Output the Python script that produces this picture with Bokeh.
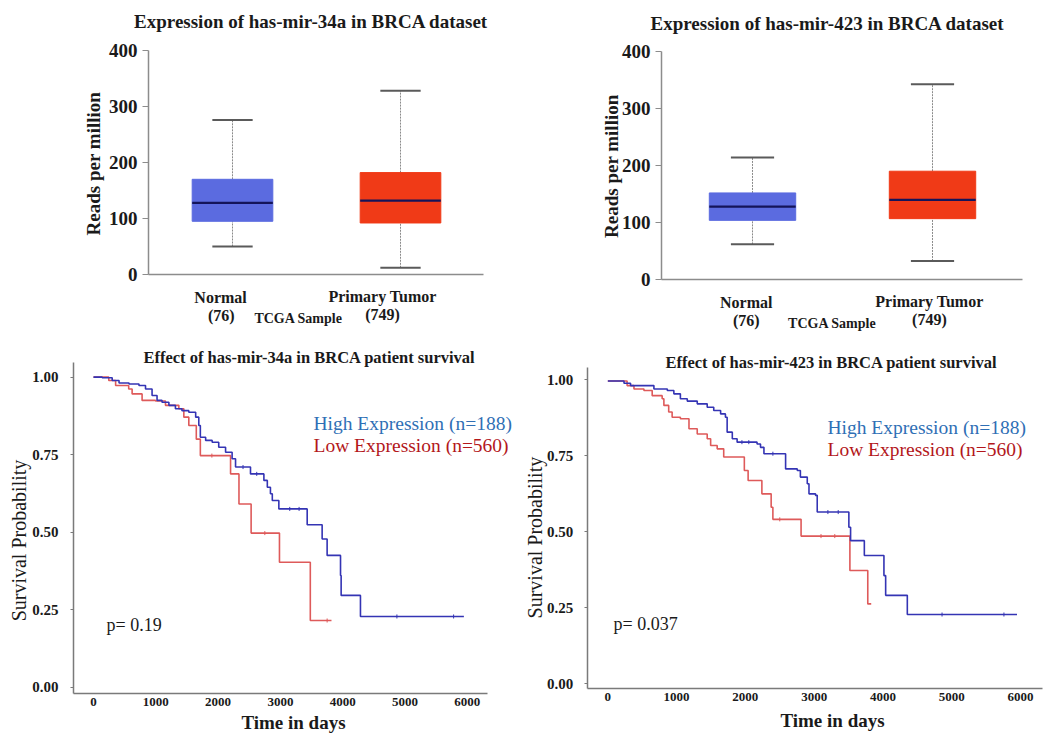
import math
from bisect import bisect_right
from bokeh.plotting import figure
from bokeh.models import Range1d, Label, FixedTicker
from bokeh.layouts import row, column
from bokeh.embed import file_html
from bokeh.resources import INLINE

SERIF = "Liberation Serif"
TXT = "#1a1a1a"

# ---------------- data ----------------
box_categories = ["Normal", "Primary Tumor"]
box_counts = ["(76)", "(749)"]
box_x = [1, 2]
box_colors = ["#5B6BE0", "#F03A17"]

mir34a_low = [50, 12]
mir34a_q1 = [95, 92]
mir34a_median = [128, 132]
mir34a_q3 = [170, 182]
mir34a_high = [276, 328]

mir423_low = [62, 33]
mir423_q1 = [104, 107]
mir423_median = [128, 140]
mir423_q3 = [152, 190]
mir423_high = [214, 342]

box_y_ticks = [0, 100, 200, 300, 400]
km_y_ticks = [0.0, 0.25, 0.5, 0.75, 1.0]
km_y_labels = ["0.00", "0.25", "0.50", "0.75", "1.00"]
km_x_ticks = [0, 1000, 2000, 3000, 4000, 5000, 6000]

km34a_high_t = [0, 140, 300, 410, 570, 730, 835, 940, 1020, 1100, 1210, 1315, 1420, 1530, 1640, 1690, 1715,
                1800, 1905, 2010, 2120, 2225, 2280, 2520, 2735, 2790, 2840, 2870, 2975, 3430, 3670, 3750,
                3965, 3975, 4285, 5945]
km34a_high_s = [1.0, 0.998, 0.989, 0.981, 0.978, 0.973, 0.962, 0.941, 0.925, 0.919, 0.909, 0.898, 0.892, 0.887,
                0.871, 0.844, 0.806, 0.796, 0.790, 0.774, 0.758, 0.737, 0.710, 0.688, 0.667, 0.645, 0.624,
                0.602, 0.575, 0.524, 0.478, 0.425, 0.360, 0.296, 0.228, 0.228]
km34a_high_censor = [2400, 2620, 3150, 3300, 4870, 5780]
km34a_low_t = [0, 245, 355, 565, 620, 780, 995, 1155, 1370, 1450, 1530, 1650, 1715, 2200, 2335, 2530, 2985,
               3480, 3820]
km34a_low_s = [1.0, 0.989, 0.973, 0.962, 0.946, 0.925, 0.923, 0.909, 0.898, 0.871, 0.844, 0.800, 0.747,
               0.688, 0.591, 0.497, 0.403, 0.215, 0.215]
km34a_low_censor = [1900, 2750, 3750]

km423_high_t = [0, 235, 330, 670, 865, 960, 1055, 1155, 1300, 1445, 1540, 1640, 1710, 1735, 1810, 1880, 2170,
                2220, 2270, 2585, 2755, 2800, 2900, 2925, 3020, 3045, 3505, 3530, 3730, 4015, 4040, 4355, 5950]
km423_high_s = [0.996, 0.989, 0.981, 0.970, 0.965, 0.954, 0.938, 0.930, 0.921, 0.910, 0.899, 0.888, 0.877,
                0.828, 0.806, 0.795, 0.789, 0.778, 0.757, 0.707, 0.702, 0.680, 0.658, 0.625, 0.620, 0.565,
                0.515, 0.471, 0.422, 0.356, 0.291, 0.228, 0.228]
km423_high_censor = [1950, 2050, 2400, 3200, 3350, 4860, 5760]
km423_low_t = [0, 280, 380, 525, 645, 790, 815, 885, 935, 1055, 1180, 1300, 1445, 1495, 1590, 1685, 1985,
               2040, 2240, 2375, 2400, 2810, 3520, 3780, 3830]
km423_low_s = [0.996, 0.981, 0.970, 0.965, 0.948, 0.938, 0.916, 0.894, 0.877, 0.872, 0.839, 0.822, 0.806,
               0.784, 0.773, 0.746, 0.702, 0.669, 0.625, 0.581, 0.541, 0.486, 0.373, 0.263, 0.263]
km423_low_censor = [2500, 3100, 3300]

km_high_color = "#3434B4"
km_low_color = "#DE5A5A"
legend_high_color = "#2F6FB5"
legend_low_color = "#B3171B"


def step_value(ts, ss, t):
    i = bisect_right(ts, t) - 1
    return ss[max(i, 0)]


def base_fig(w, h, xr, yr):
    p = figure(width=w, height=h, output_backend="svg", toolbar_location=None,
               x_range=Range1d(*xr), y_range=Range1d(*yr),
               min_border_left=0, min_border_right=0, min_border_top=0, min_border_bottom=0)
    p.outline_line_color = None
    p.xgrid.visible = False
    p.ygrid.visible = False
    p.background_fill_color = "white"
    return p


def lab(p, x, y, text, size, bold=True, color=TXT, align="center", angle=0.0):
    p.add_layout(Label(x=x, y=y, text=text, text_font=SERIF, text_font_size=f"{size}px",
                       text_font_style="bold" if bold else "normal", text_color=color,
                       text_align=align, text_baseline="middle", angle=angle))


def style_axis(ax, color, ticks, fixed, bounds, tick_out, standoff, size):
    ax.ticker = FixedTicker(ticks=ticks)
    ax.fixed_location = fixed
    ax.bounds = bounds
    ax.axis_line_color = color
    ax.axis_line_width = 1.5
    ax.major_tick_line_color = color if tick_out > 0 else None
    ax.minor_tick_line_color = None
    ax.major_tick_out = tick_out
    ax.major_tick_in = 0
    ax.major_label_standoff = standoff
    ax.major_label_text_font = SERIF
    ax.major_label_text_font_style = "bold"
    ax.major_label_text_font_size = f"{size}px"
    ax.major_label_text_color = TXT


def box_panel(w, h, xr, yr, yfix, xbounds, lows, q1, med, q3, highs, title, tpos, ylab,
              cat_pos, cnt_pos, tcga_pos):
    p = base_fig(w, h, xr, yr)
    bw = 0.48
    cw = 0.24
    p.segment(x0=box_x, y0=q3, x1=box_x, y1=highs, line_color="#8a8a8a", line_width=1, line_dash="2 1")
    p.segment(x0=box_x, y0=lows, x1=box_x, y1=q1, line_color="#8a8a8a", line_width=1, line_dash="2 1")
    p.segment(x0=[x - cw / 2 for x in box_x], y0=highs, x1=[x + cw / 2 for x in box_x], y1=highs,
              line_color="#5a5a5a", line_width=2)
    p.segment(x0=[x - cw / 2 for x in box_x], y0=lows, x1=[x + cw / 2 for x in box_x], y1=lows,
              line_color="#5a5a5a", line_width=2)
    p.vbar(x=box_x, width=bw, bottom=q1, top=q3, fill_color=box_colors, line_color=box_colors)
    p.segment(x0=[x - bw / 2 for x in box_x], y0=med, x1=[x + bw / 2 for x in box_x], y1=med,
              line_color="#14145a", line_width=2.2)
    style_axis(p.yaxis[0], "#8c8c8c", box_y_ticks, yfix, (0, 400), 6, 5, 19)
    style_axis(p.xaxis[0], "#8c8c8c", [], 0, xbounds, 0, 0, 12)
    lab(p, tpos[0], tpos[1], title, 19)
    lab(p, ylab[0], ylab[1], "Reads per million", 19, angle=math.pi / 2)
    for i in range(2):
        lab(p, cat_pos[i][0], cat_pos[i][1], box_categories[i], 16)
        lab(p, cnt_pos[i][0], cnt_pos[i][1], box_counts[i], 16)
    lab(p, tcga_pos[0], tcga_pos[1], "TCGA Sample", 14)
    return p


def km_panel(w, h, xr, yr, yfix, xfix, xbounds, ybounds, ht, hs, hc, lt, ls, lc, title, tpos, hpos, lpos,
             ptext, ppos, ystand, xstand, xlab, ylab):
    p = base_fig(w, h, xr, yr)
    p.step(x=lt, y=ls, mode="after", line_color=km_low_color, line_width=1.6)
    p.step(x=ht, y=hs, mode="after", line_color=km_high_color, line_width=1.6)
    p.scatter(x=lc, y=[step_value(lt, ls, t) for t in lc], marker="dash", angle=math.pi / 2, size=4,
              line_color=km_low_color, line_width=1)
    p.scatter(x=hc, y=[step_value(ht, hs, t) for t in hc], marker="dash", angle=math.pi / 2, size=4,
              line_color=km_high_color, line_width=1)
    ya = p.yaxis[0]
    style_axis(ya, "#7a7a7a", km_y_ticks, yfix, ybounds, 3, ystand, 15)
    ya.major_label_overrides = {t: l for t, l in zip(km_y_ticks, km_y_labels)}
    style_axis(p.xaxis[0], "#7a7a7a", km_x_ticks, xfix, xbounds, 0, xstand, 13)
    lab(p, tpos[0], tpos[1], title, 16.5)
    lab(p, hpos[0], hpos[1], "High Expression (n=188)", 19.5, bold=False, color=legend_high_color, align="left")
    lab(p, lpos[0], lpos[1], "Low Expression (n=560)", 19.5, bold=False, color=legend_low_color, align="left")
    lab(p, ppos[0], ppos[1], ptext, 18, bold=False, align="left")
    lab(p, xlab[0], xlab[1], "Time in days", 19)
    lab(p, ylab[0], ylab[1], "Survival Probability", 20, bold=False, angle=math.pi / 2)
    return p


p1 = box_panel(522, 338, (-0.381, 2.7262), (-114.29, 489.29), 0.5, (0.5, 2.494),
               mir34a_low, mir34a_q1, mir34a_median, mir34a_q3, mir34a_high,
               "Expression of has-mir-34a in BRCA dataset", (1.468, 452), (0.174, 198),
               [(0.929, -41), (1.893, -39.3)], [(0.933, -73), (1.893, -71.4)], (1.393, -78.6))

p2 = box_panel(524, 338, (-0.2778, 2.6333), (-102.7, 488.7), 0.4944, (0.4944, 2.5),
               mir423_low, mir423_q1, mir423_median, mir423_q3, mir423_high,
               "Expression of has-mir-423 in BRCA dataset", (1.417, 448.5), (0.2156, 198.8),
               [(0.965, -39.7), (1.983, -38)], [(0.965, -71.2), (1.983, -69.5)], (1.443, -76.5))

p3 = km_panel(522, 396, (-1492.8, 6886), (-0.1527, 1.1247), -321, -0.0194, (-321, 6324), (-0.0194, 1.0473),
              km34a_high_t, km34a_high_s, km34a_high_censor, km34a_low_t, km34a_low_s, km34a_low_censor,
              "Effect of has-mir-34a in BRCA patient survival", (3467, 1.0634),
              (3531, 0.8505), (3531, 0.7796), "p= 0.19", (209, 0.199), 12, 5,
              (3210, -0.1150), (-1196, 0.473))

p4 = km_panel(524, 396, (-1241, 6379), (-0.1667, 1.136), -300, -0.0144, (-300, 6317), (-0.0144, 1.0416),
              km423_high_t, km423_high_s, km423_high_censor, km423_low_t, km423_low_s, km423_low_censor,
              "Effect of has-mir-423 in BRCA patient survival", (3252, 1.057),
              (3194, 0.843), (3194, 0.771), "p= 0.037", (82, 0.198), 11, 5,
              (3267, -0.1206), (-1059, 0.481))

layout = column(row(p1, p2), row(p3, p4))
open("out.html", "w").write(file_html(layout, INLINE))
